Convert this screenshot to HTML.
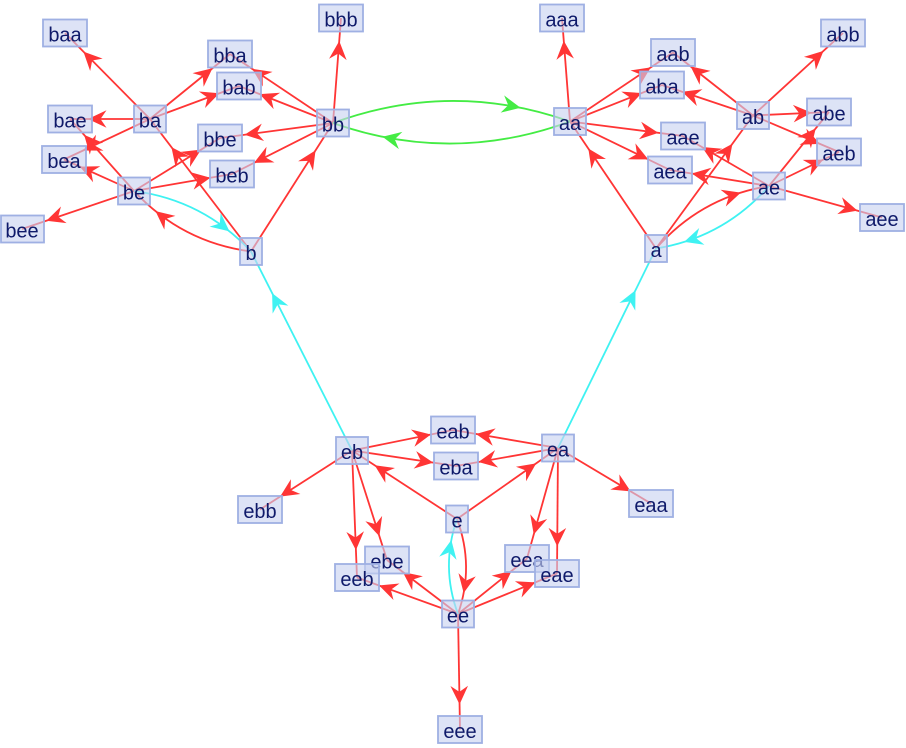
<!DOCTYPE html>
<html>
<head>
<meta charset="utf-8">
<style>
html,body{margin:0;padding:0;background:#ffffff;}
svg{display:block;}
.n rect{fill:rgba(200,210,241,0.62);stroke:#9fb0e3;stroke-width:1.8;}
.n text{font-family:"Liberation Sans",sans-serif;font-size:20px;fill:#0f1a6a;text-anchor:middle;}
</style>
</head>
<body>
<svg id="s" width="906" height="748" viewBox="0 0 906 748" xmlns="http://www.w3.org/2000/svg">
<rect x="0" y="0" width="906" height="748" fill="#ffffff"/>
<g id="E"></g>
<g id="A"></g>
<g class="n">
<rect x="43" y="19.5" width="44" height="27"/><text x="65" y="41.5">baa</text>
<rect x="319" y="4.5" width="44" height="27"/><text x="341" y="26.5">bbb</text>
<rect x="208" y="40.5" width="44" height="27"/><text x="230" y="62.5">bba</text>
<rect x="217" y="72.5" width="44" height="27"/><text x="239" y="94.5">bab</text>
<rect x="48" y="105.5" width="44" height="27"/><text x="70" y="127.5">bae</text>
<rect x="134" y="105.5" width="32" height="27"/><text x="150" y="127.5">ba</text>
<rect x="317" y="109.5" width="32" height="27"/><text x="333" y="131.5">bb</text>
<rect x="198" y="124.5" width="44" height="27"/><text x="220" y="146.5">bbe</text>
<rect x="42" y="146" width="44" height="27"/><text x="64" y="168">bea</text>
<rect x="210" y="160.5" width="44" height="27"/><text x="232" y="182.5">beb</text>
<rect x="118" y="177.5" width="32" height="27"/><text x="134" y="199.5">be</text>
<rect x="1" y="215.5" width="43" height="27"/><text x="22" y="237.5">bee</text>
<rect x="240" y="238" width="22" height="27"/><text x="251" y="260">b</text>

<rect x="540" y="4.5" width="44" height="27"/><text x="562" y="26.5">aaa</text>
<rect x="821" y="19.5" width="44" height="27"/><text x="843" y="41.5">abb</text>
<rect x="651" y="39" width="44" height="27"/><text x="673" y="61">aab</text>
<rect x="640" y="71.5" width="44" height="27"/><text x="662" y="93.5">aba</text>
<rect x="737" y="102" width="32" height="27"/><text x="753" y="124">ab</text>
<rect x="807" y="98.5" width="44" height="27"/><text x="829" y="120.5">abe</text>
<rect x="554" y="108" width="32" height="27"/><text x="570" y="130">aa</text>
<rect x="661" y="122.5" width="44" height="27"/><text x="683" y="144.5">aae</text>
<rect x="817" y="138.5" width="44" height="27"/><text x="839" y="160.5">aeb</text>
<rect x="648" y="156.5" width="44" height="27"/><text x="670" y="178.5">aea</text>
<rect x="753" y="172.5" width="32" height="27"/><text x="769" y="194.5">ae</text>
<rect x="860" y="204" width="44" height="27"/><text x="882" y="226">aee</text>
<rect x="645" y="235" width="22" height="27"/><text x="656" y="257">a</text>

<rect x="431" y="416.5" width="44" height="27"/><text x="453" y="438.5">eab</text>
<rect x="336" y="437" width="32" height="27"/><text x="352" y="459">eb</text>
<rect x="542" y="434.5" width="32" height="27"/><text x="558" y="456.5">ea</text>
<rect x="434" y="452.5" width="44" height="27"/><text x="456" y="474.5">eba</text>
<rect x="629" y="490" width="44" height="27"/><text x="651" y="512">eaa</text>
<rect x="238" y="496" width="44" height="27"/><text x="260" y="518">ebb</text>
<rect x="446" y="505.5" width="22" height="27"/><text x="457" y="527.5">e</text>
<rect x="365" y="546.5" width="44" height="27"/><text x="387" y="568.5">ebe</text>
<rect x="335" y="564" width="44" height="27"/><text x="357" y="586">eeb</text>
<rect x="505" y="545" width="44" height="27"/><text x="527" y="567">eea</text>
<rect x="535" y="560" width="44" height="27"/><text x="557" y="582">eae</text>
<rect x="442" y="600.5" width="32" height="27"/><text x="458" y="622.5">ee</text>
<rect x="438" y="716" width="44" height="27"/><text x="460" y="738">eee</text>
</g>
</svg>
<script>
(function(){
var P={baa:[65,33],bbb:[341,18],bba:[230,54],bab:[239,86],bae:[70,119],ba:[150,119],bb:[333,123],bbe:[220,138],bea:[64,159.5],beb:[232,174],be:[134,191],bee:[22,229],b:[251,251.5],
aaa:[562,18],abb:[843,33],aab:[673,52.5],aba:[662,85],ab:[753,115.5],abe:[829,112],aa:[570,121.5],aae:[683,136],aeb:[839,152],aea:[670,170],ae:[769,186],aee:[882,217.5],a:[656,248.5],
eab:[453,430],eb:[352,450.5],ea:[558,448],eba:[456,466],eaa:[651,503.5],ebb:[260,509.5],e:[457,519],ebe:[387,560],eea:[527,558.5],eeb:[357,577.5],eae:[557,573.5],ee:[458,614],eee:[460,729.5]};
var R='#ff3535',C='#3ff2f2',G='#44ec44';
var edges=[
['bb','bbb',R,0],['bb','bba',R,0],['bb','bab',R,0],['bb','bbe',R,0],['bb','beb',R,0],
['ba','baa',R,0],['ba','bba',R,0],['ba','bab',R,0],['ba','bae',R,0],['ba','bea',R,0],
['be','bae',R,0],['be','bea',R,0],['be','bee',R,0],['be','bbe',R,0],['be','beb',R,0],
['b','bb',R,0],['b','ba',R,0],
['aa','aaa',R,0],['aa','aab',R,0],['aa','aba',R,0],['aa','aae',R,0],['aa','aea',R,0],
['ab','aab',R,0],['ab','aba',R,0],['ab','abb',R,0],['ab','abe',R,0],['ab','aeb',R,0],
['ae','abe',R,0],['ae','aeb',R,0],['ae','aae',R,0],['ae','aea',R,0],['ae','aee',R,0],
['a','aa',R,0],['a','ab',R,0],
['eb','eab',R,0],['eb','eba',R,0],['eb','ebb',R,0],['eb','eeb',R,0],['eb','ebe',R,0],
['ea','eab',R,0],['ea','eba',R,0],['ea','eaa',R,0],['ea','eea',R,0],['ea','eae',R,0],
['e','eb',R,0],['e','ea',R,0],
['ee','eeb',R,0],['ee','ebe',R,0],['ee','eea',R,0],['ee','eae',R,0],['ee','eee',R,0],
['b','be',R,1],['be','b',C,1],['a','ae',R,1],['ae','a',C,1],['e','ee',R,1],['ee','e',C,1],
['bb','aa',G,1],['aa','bb',G,1],
['eb','b',C,0],['ea','a',C,0]
];
var NS='http://www.w3.org/2000/svg';
function el(t,a,p){var e=document.createElementNS(NS,t);for(var k in a)e.setAttribute(k,a[k]);p.appendChild(e);return e;}
var E=document.getElementById('E'),A=document.getElementById('A');
edges.forEach(function(ed){
 var s=P[ed[0]],t=P[ed[1]],col=ed[2],cv=ed[3];
 var x0=s[0],y0=s[1],x2=t[0],y2=t[1];
 var dx=x2-x0,dy=y2-y0,L=Math.sqrt(dx*dx+dy*dy);
 var nx=dy/L,ny=-dx/L;
 var k=cv?0.18*L:0;
 var cx=(x0+x2)/2+nx*k,cy=(y0+y2)/2+ny*k;
 el('path',{d:'M'+x0+','+y0+' Q'+cx+','+cy+' '+x2+','+y2,fill:'none',stroke:col,'stroke-width':1.8},E);
 var tt=Math.min(0.95,(0.8*L-2)/L);
 var px=(1-tt)*(1-tt)*x0+2*tt*(1-tt)*cx+tt*tt*x2;
 var py=(1-tt)*(1-tt)*y0+2*tt*(1-tt)*cy+tt*tt*y2;
 var tx=2*(1-tt)*(cx-x0)+2*tt*(x2-cx),ty=2*(1-tt)*(cy-y0)+2*tt*(y2-cy);
 var ang=Math.atan2(ty,tx)*180/Math.PI;
 el('polygon',{points:'0,0 -18.5,-8.8 -12.5,0 -18.5,8.8',fill:col,transform:'translate('+px+','+py+') rotate('+ang+')'},A);
});
})();
</script>
</body>
</html>
